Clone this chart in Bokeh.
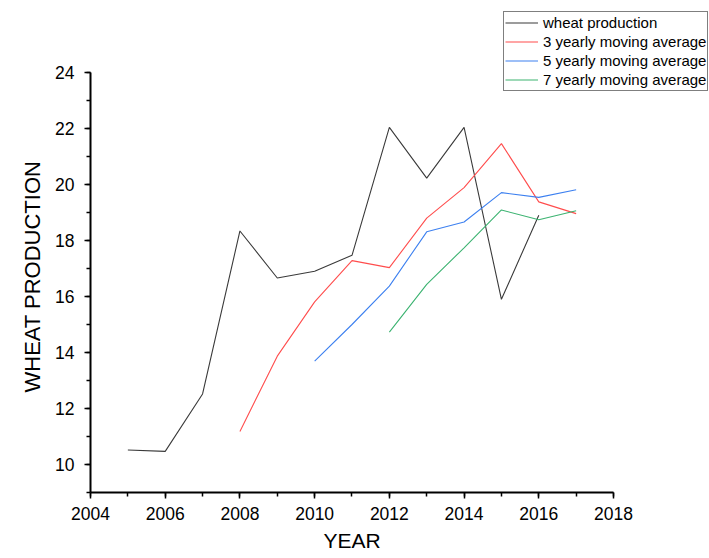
from bokeh.plotting import figure
from bokeh.models import Legend, LegendItem, SingleIntervalTicker, Range1d, Title
from bokeh.embed import file_html
from bokeh.resources import INLINE

# ---- data ----
years_wheat = [2005, 2006, 2007, 2008, 2009, 2010, 2011, 2012, 2013, 2014, 2015, 2016]
wheat = [10.52, 10.47, 12.52, 18.34, 16.66, 16.90, 17.47, 22.04, 20.23, 22.04, 15.90, 18.90]

years_ma3 = [2008, 2009, 2010, 2011, 2012, 2013, 2014, 2015, 2016, 2017]
ma3 = [11.18, 13.87, 15.81, 17.28, 17.03, 18.80, 19.89, 21.46, 19.38, 18.96]

years_ma5 = [2010, 2011, 2012, 2013, 2014, 2015, 2016, 2017]
ma5 = [13.69, 15.00, 16.37, 18.31, 18.66, 19.71, 19.54, 19.81]

years_ma7 = [2012, 2013, 2014, 2015, 2016, 2017]
ma7 = [14.73, 16.43, 17.74, 19.09, 18.74, 19.06]

labels = ["wheat production", "3 yearly moving average",
          "5 yearly moving average", "7 yearly moving average"]

x_title = "YEAR"
y_title = "WHEAT PRODUCTION"

x_axis_bounds = (2004, 2018)
y_axis_bounds = (9, 24)

FONT = "Liberation Sans"

# frame extends beyond the axes so that the legend (which overhangs the axes box) is not clipped
p = figure(width=709, height=558, output_backend="svg", toolbar_location=None,
           x_range=Range1d(2004, 2020.5698), y_range=Range1d(9, 26.5),
           min_border_left=90, min_border_right=0, min_border_top=2, min_border_bottom=66)

p.outline_line_color = None
p.xgrid.visible = False
p.ygrid.visible = False
p.background_fill_color = "white"
p.border_fill_color = "white"

r0 = p.line(years_wheat, wheat, line_color="#3a3a3a", line_width=1.1)
r1 = p.line(years_ma3, ma3, line_color="#ff4d4d", line_width=1.1)
r2 = p.line(years_ma5, ma5, line_color="#3d80f0", line_width=1.1)
r3 = p.line(years_ma7, ma7, line_color="#3cb371", line_width=1.1)

for ax, tick, bnds in ((p.xaxis[0], SingleIntervalTicker(interval=2, num_minor_ticks=2), x_axis_bounds),
                       (p.yaxis[0], SingleIntervalTicker(interval=2, num_minor_ticks=2), y_axis_bounds)):
    ax.ticker = tick
    ax.bounds = bnds
    ax.axis_line_width = 2
    ax.axis_line_color = "black"
    ax.major_tick_line_width = 1.5
    ax.minor_tick_line_width = 1.5
    ax.major_tick_line_color = "black"
    ax.minor_tick_line_color = "black"
    ax.major_tick_out = 6
    ax.major_tick_in = 0
    ax.minor_tick_out = 4
    ax.minor_tick_in = 0
    ax.major_label_text_font = FONT
    ax.major_label_text_font_size = "17.5px"
    ax.major_label_text_color = "black"

p.xaxis.major_label_standoff = 8
p.yaxis.major_label_standoff = 10

# axis titles centred on the axis lines (not the enlarged frame)
xt = Title(text=x_title, align="left", offset=233, standoff=8,
           text_font=FONT, text_font_size="21px", text_font_style="normal", text_color="black")
yt = Title(text=y_title, align="left", offset=100, standoff=15,
           text_font=FONT, text_font_size="22px", text_font_style="normal", text_color="black")
p.add_layout(xt, "below")
p.add_layout(yt, "left")

legend = Legend(items=[LegendItem(label=labels[0], renderers=[r0]),
                       LegendItem(label=labels[1], renderers=[r1]),
                       LegendItem(label=labels[2], renderers=[r2]),
                       LegendItem(label=labels[3], renderers=[r3])],
                location=(413, 401))
legend.border_line_color = "black"
legend.border_line_width = 1.5
legend.background_fill_color = "white"
legend.background_fill_alpha = 1.0
legend.label_text_font = FONT
legend.label_text_font_size = "15px"
legend.label_text_color = "black"
legend.glyph_width = 33
legend.glyph_height = 19
legend.label_height = 19
legend.label_standoff = 5
legend.spacing = 0
legend.padding = 1
legend.margin = 0
p.add_layout(legend, "center")

open("out.html", "w").write(file_html(p, INLINE))
